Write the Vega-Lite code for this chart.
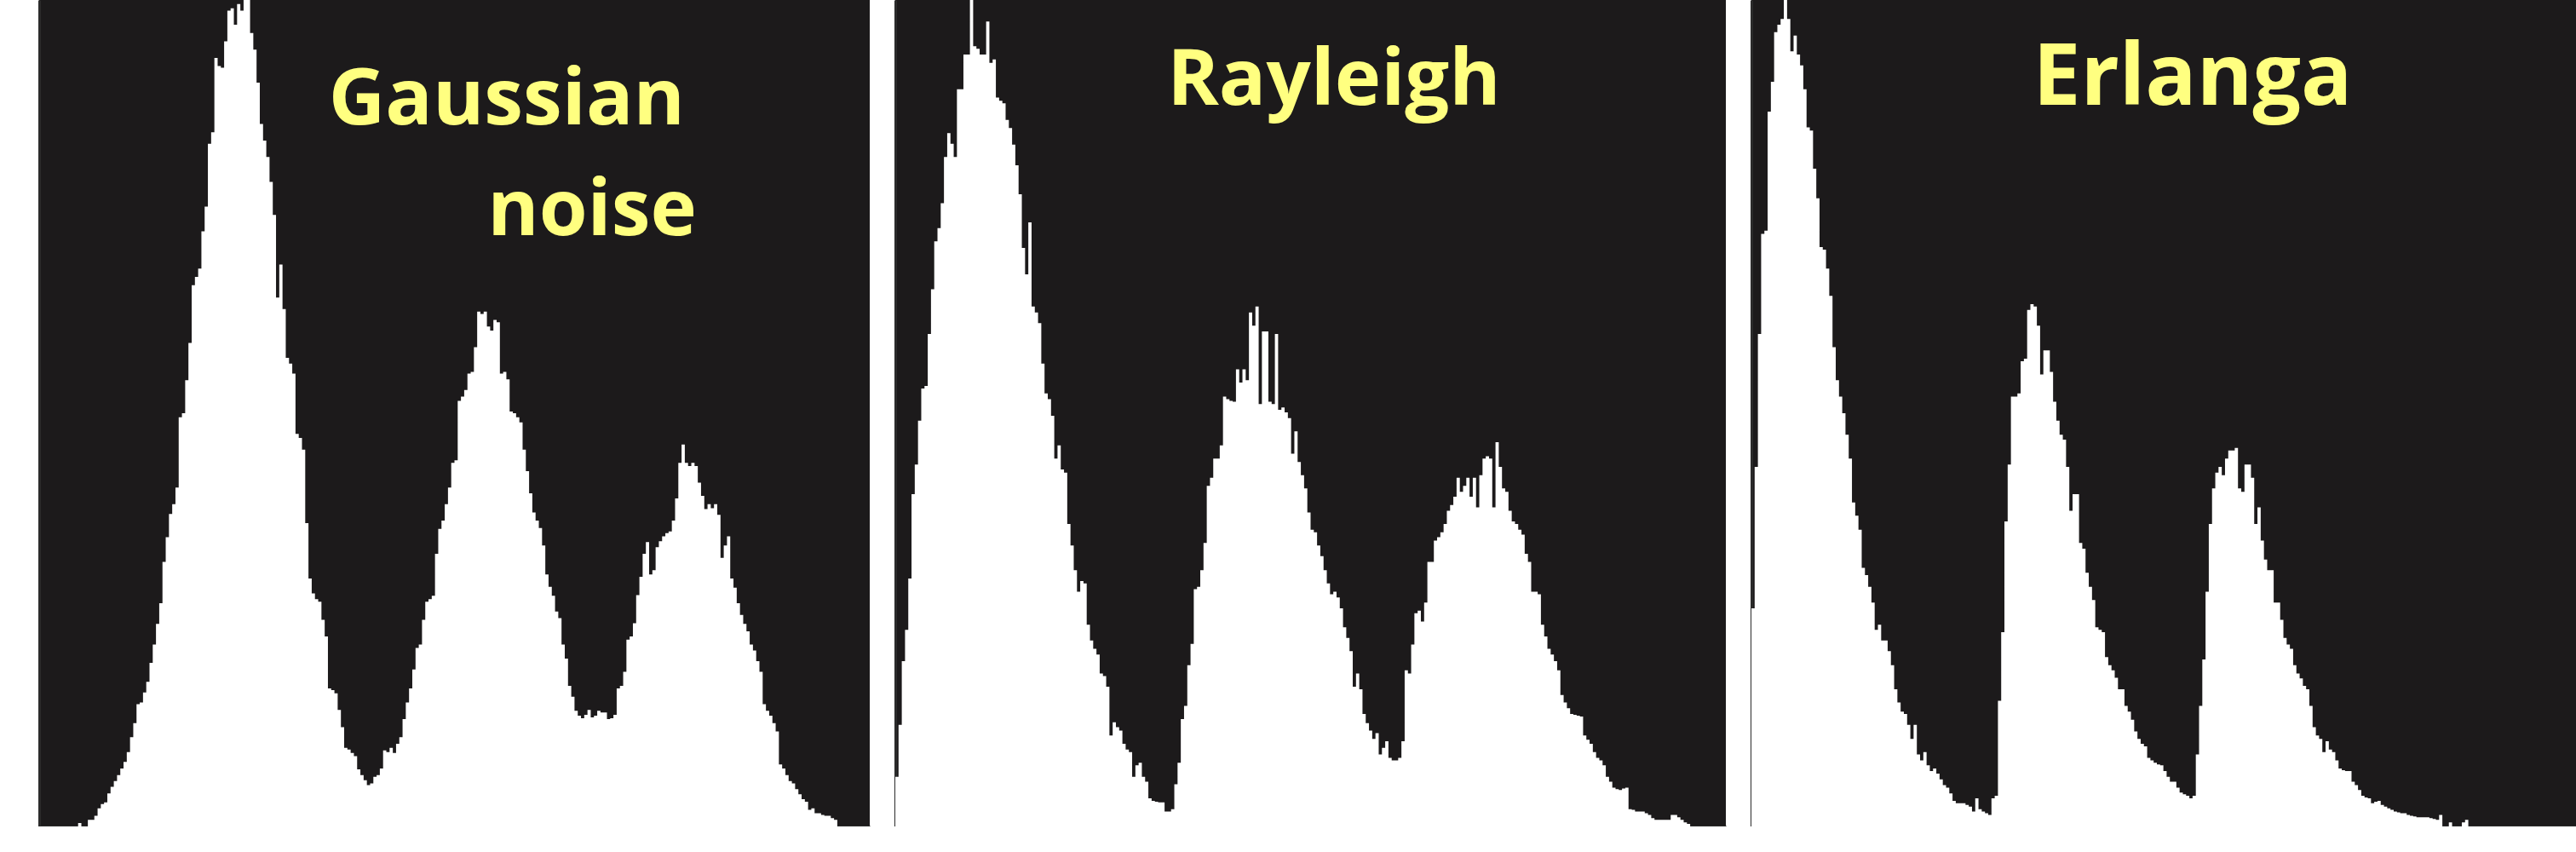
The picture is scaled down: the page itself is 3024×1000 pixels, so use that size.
{
  "$schema": "https://vega.github.io/schema/vega-lite/v6.json",
  "background": "white",
  "padding": {"left": 46, "top": 0, "right": 0, "bottom": 0},
  "spacing": 30,
  "config": {
    "view": {"fill": "#1c1a1b", "stroke": null},
    "axis": {"labels": false, "ticks": false, "grid": false, "title": null, "domainColor": "#2b2b2b", "domainWidth": 3, "zindex": 1},
    "text": {"font": "Open Sans", "fontSize": 92, "fontWeight": "bold", "color": "#ffff80", "align": "center", "baseline": "alphabetic"}
  },
  "datasets": {
    "labels": [
      {"p": "g", "i": 144.1, "v": 0.849, "t": "Gaussian"},
      {"p": "g", "i": 170.4, "v": 0.715, "t": "noise"},
      {"p": "r", "i": 135.2, "v": 0.873, "t": "Rayleigh"},
      {"p": "e", "i": 136.0, "v": 0.873, "t": "Erlanga"}
    ],
    "gaussian": [
      {"i":12,"v":0.004},{"i":13,"v":0},{"i":14,"v":0},{"i":15,"v":0.008},{"i":16,"v":0.008},{"i":17,"v":0.013},{"i":18,"v":0.022},{"i":19,"v":0.027},
      {"i":20,"v":0.029},{"i":21,"v":0.04},{"i":22,"v":0.048},{"i":23,"v":0.055},{"i":24,"v":0.062},{"i":25,"v":0.07},{"i":26,"v":0.078},{"i":27,"v":0.09},
      {"i":28,"v":0.108},{"i":29,"v":0.125},{"i":30,"v":0.148},{"i":31,"v":0.15},{"i":32,"v":0.162},{"i":33,"v":0.175},{"i":34,"v":0.198},{"i":35,"v":0.22},
      {"i":36,"v":0.245},{"i":37,"v":0.27},{"i":38,"v":0.32},{"i":39,"v":0.35},{"i":40,"v":0.378},{"i":41,"v":0.39},{"i":42,"v":0.41},{"i":43,"v":0.495},
      {"i":44,"v":0.5},{"i":45,"v":0.54},{"i":46,"v":0.585},{"i":47,"v":0.655},{"i":48,"v":0.665},{"i":49,"v":0.675},{"i":50,"v":0.72},{"i":51,"v":0.75},
      {"i":52,"v":0.826},{"i":53,"v":0.84},{"i":54,"v":0.93},{"i":55,"v":0.92},{"i":56,"v":0.918},{"i":57,"v":0.95},{"i":58,"v":0.987},{"i":59,"v":0.99},
      {"i":60,"v":0.97},{"i":61,"v":0.995},{"i":62,"v":0.987},{"i":63,"v":1.02},{"i":64,"v":1.0},{"i":65,"v":0.96},{"i":66,"v":0.94},{"i":67,"v":0.9},
      {"i":68,"v":0.85},{"i":69,"v":0.83},{"i":70,"v":0.81},{"i":71,"v":0.78},{"i":72,"v":0.74},{"i":73,"v":0.64},{"i":74,"v":0.68},{"i":75,"v":0.626},
      {"i":76,"v":0.567},{"i":77,"v":0.56},{"i":78,"v":0.548},{"i":79,"v":0.475},{"i":80,"v":0.47},{"i":81,"v":0.456},{"i":82,"v":0.367},{"i":83,"v":0.3},
      {"i":84,"v":0.282},{"i":85,"v":0.275},{"i":86,"v":0.272},{"i":87,"v":0.25},{"i":88,"v":0.23},{"i":89,"v":0.167},{"i":90,"v":0.165},{"i":91,"v":0.161},
      {"i":92,"v":0.141},{"i":93,"v":0.12},{"i":94,"v":0.095},{"i":95,"v":0.093},{"i":96,"v":0.089},{"i":97,"v":0.085},{"i":98,"v":0.069},{"i":99,"v":0.062},
      {"i":100,"v":0.056},{"i":101,"v":0.05},{"i":102,"v":0.052},{"i":103,"v":0.06},{"i":104,"v":0.062},{"i":105,"v":0.07},{"i":106,"v":0.092},{"i":107,"v":0.09},
      {"i":108,"v":0.095},{"i":109,"v":0.089},{"i":110,"v":0.1},{"i":111,"v":0.108},{"i":112,"v":0.13},{"i":113,"v":0.15},{"i":114,"v":0.167},{"i":115,"v":0.19},
      {"i":116,"v":0.216},{"i":117,"v":0.22},{"i":118,"v":0.25},{"i":119,"v":0.272},{"i":120,"v":0.275},{"i":121,"v":0.279},{"i":122,"v":0.33},{"i":123,"v":0.36},
      {"i":124,"v":0.37},{"i":125,"v":0.39},{"i":126,"v":0.41},{"i":127,"v":0.44},{"i":128,"v":0.443},{"i":129,"v":0.515},{"i":130,"v":0.52},{"i":131,"v":0.528},
      {"i":132,"v":0.548},{"i":133,"v":0.55},{"i":134,"v":0.58},{"i":135,"v":0.623},{"i":136,"v":0.62},{"i":137,"v":0.623},{"i":138,"v":0.605},{"i":139,"v":0.6},
      {"i":140,"v":0.613},{"i":141,"v":0.61},{"i":142,"v":0.548},{"i":143,"v":0.55},{"i":144,"v":0.541},{"i":145,"v":0.502},{"i":146,"v":0.5},{"i":147,"v":0.495},
      {"i":148,"v":0.489},{"i":149,"v":0.456},{"i":150,"v":0.43},{"i":151,"v":0.403},{"i":152,"v":0.38},{"i":153,"v":0.37},{"i":154,"v":0.361},{"i":155,"v":0.34},
      {"i":156,"v":0.305},{"i":157,"v":0.29},{"i":158,"v":0.279},{"i":159,"v":0.26},{"i":160,"v":0.252},{"i":161,"v":0.22},{"i":162,"v":0.203},{"i":163,"v":0.17},
      {"i":164,"v":0.157},{"i":165,"v":0.14},{"i":166,"v":0.134},{"i":167,"v":0.131},{"i":168,"v":0.135},{"i":169,"v":0.141},{"i":170,"v":0.132},{"i":171,"v":0.134},
      {"i":172,"v":0.14},{"i":173,"v":0.138},{"i":174,"v":0.138},{"i":175,"v":0.13},{"i":176,"v":0.131},{"i":177,"v":0.135},{"i":178,"v":0.167},{"i":179,"v":0.17},
      {"i":180,"v":0.187},{"i":181,"v":0.226},{"i":182,"v":0.23},{"i":183,"v":0.246},{"i":184,"v":0.28},{"i":185,"v":0.302},{"i":186,"v":0.33},{"i":187,"v":0.344},
      {"i":188,"v":0.305},{"i":189,"v":0.31},{"i":190,"v":0.338},{"i":191,"v":0.345},{"i":192,"v":0.351},{"i":193,"v":0.355},{"i":194,"v":0.357},{"i":195,"v":0.37},
      {"i":196,"v":0.397},{"i":197,"v":0.44},{"i":198,"v":0.462},{"i":199,"v":0.44},{"i":200,"v":0.436},{"i":201,"v":0.44},{"i":202,"v":0.436},{"i":203,"v":0.416},
      {"i":204,"v":0.4},{"i":205,"v":0.384},{"i":206,"v":0.39},{"i":207,"v":0.385},{"i":208,"v":0.39},{"i":209,"v":0.377},{"i":210,"v":0.325},{"i":211,"v":0.34},
      {"i":212,"v":0.351},{"i":213,"v":0.3},{"i":214,"v":0.289},{"i":215,"v":0.27},{"i":216,"v":0.256},{"i":217,"v":0.245},{"i":218,"v":0.236},{"i":219,"v":0.22},
      {"i":220,"v":0.213},{"i":221,"v":0.2},{"i":222,"v":0.187},{"i":223,"v":0.148},{"i":224,"v":0.14},{"i":225,"v":0.134},{"i":226,"v":0.125},{"i":227,"v":0.115},
      {"i":228,"v":0.075},{"i":229,"v":0.07},{"i":230,"v":0.062},{"i":231,"v":0.055},{"i":232,"v":0.052},{"i":233,"v":0.045},{"i":234,"v":0.039},{"i":235,"v":0.033},
      {"i":236,"v":0.03},{"i":237,"v":0.02},{"i":238,"v":0.022},{"i":239,"v":0.016},{"i":240,"v":0.016},{"i":241,"v":0.014},{"i":242,"v":0.013},{"i":243,"v":0.013},
      {"i":244,"v":0.01},{"i":245,"v":0.008},{"i":246,"v":0}
    ],
    "rayleigh": [
      {"i":0,"v":0.06},{"i":1,"v":0.123},{"i":2,"v":0.2},{"i":3,"v":0.238},{"i":4,"v":0.3},{"i":5,"v":0.402},{"i":6,"v":0.438},{"i":7,"v":0.491},
      {"i":8,"v":0.53},{"i":9,"v":0.533},{"i":10,"v":0.596},{"i":11,"v":0.65},{"i":12,"v":0.708},{"i":13,"v":0.724},{"i":14,"v":0.754},{"i":15,"v":0.81},
      {"i":16,"v":0.839},{"i":17,"v":0.826},{"i":18,"v":0.81},{"i":19,"v":0.892},{"i":20,"v":0.892},{"i":21,"v":0.934},{"i":22,"v":0.934},{"i":23,"v":1.02},
      {"i":24,"v":0.944},{"i":25,"v":0.941},{"i":26,"v":0.934},{"i":27,"v":0.934},{"i":28,"v":0.974},{"i":29,"v":0.924},{"i":30,"v":0.928},{"i":31,"v":0.882},
      {"i":32,"v":0.878},{"i":33,"v":0.875},{"i":34,"v":0.855},{"i":35,"v":0.845},{"i":36,"v":0.825},{"i":37,"v":0.8},{"i":38,"v":0.765},{"i":39,"v":0.7},
      {"i":40,"v":0.668},{"i":41,"v":0.731},{"i":42,"v":0.629},{"i":43,"v":0.622},{"i":44,"v":0.609},{"i":45,"v":0.56},{"i":46,"v":0.524},{"i":47,"v":0.517},
      {"i":48,"v":0.497},{"i":49,"v":0.445},{"i":50,"v":0.461},{"i":51,"v":0.432},{"i":52,"v":0.428},{"i":53,"v":0.366},{"i":54,"v":0.34},{"i":55,"v":0.31},
      {"i":56,"v":0.284},{"i":57,"v":0.297},{"i":58,"v":0.294},{"i":59,"v":0.244},{"i":60,"v":0.225},{"i":61,"v":0.215},{"i":62,"v":0.208},{"i":63,"v":0.185},
      {"i":64,"v":0.182},{"i":65,"v":0.169},{"i":66,"v":0.11},{"i":67,"v":0.126},{"i":68,"v":0.12},{"i":69,"v":0.116},{"i":70,"v":0.1},{"i":71,"v":0.093},
      {"i":72,"v":0.09},{"i":73,"v":0.06},{"i":74,"v":0.074},{"i":75,"v":0.077},{"i":76,"v":0.06},{"i":77,"v":0.054},{"i":78,"v":0.034},{"i":79,"v":0.031},
      {"i":80,"v":0.03},{"i":81,"v":0.029},{"i":82,"v":0.029},{"i":83,"v":0.018},{"i":84,"v":0.018},{"i":85,"v":0.021},{"i":86,"v":0.051},{"i":87,"v":0.077},
      {"i":88,"v":0.13},{"i":89,"v":0.146},{"i":90,"v":0.195},{"i":91,"v":0.221},{"i":92,"v":0.287},{"i":93,"v":0.29},{"i":94,"v":0.31},{"i":95,"v":0.343},
      {"i":96,"v":0.412},{"i":97,"v":0.422},{"i":98,"v":0.445},{"i":99,"v":0.445},{"i":100,"v":0.461},{"i":101,"v":0.52},{"i":102,"v":0.517},{"i":103,"v":0.515},
      {"i":104,"v":0.514},{"i":105,"v":0.553},{"i":106,"v":0.537},{"i":107,"v":0.553},{"i":108,"v":0.54},{"i":109,"v":0.622},{"i":110,"v":0.606},{"i":111,"v":0.629},
      {"i":112,"v":0.511},{"i":113,"v":0.599},{"i":114,"v":0.599},{"i":115,"v":0.514},{"i":116,"v":0.511},{"i":117,"v":0.596},{"i":118,"v":0.504},{"i":119,"v":0.507},
      {"i":120,"v":0.501},{"i":121,"v":0.494},{"i":122,"v":0.451},{"i":123,"v":0.478},{"i":124,"v":0.441},{"i":125,"v":0.425},{"i":126,"v":0.409},{"i":127,"v":0.38},
      {"i":128,"v":0.359},{"i":129,"v":0.356},{"i":130,"v":0.34},{"i":131,"v":0.327},{"i":132,"v":0.31},{"i":133,"v":0.294},{"i":134,"v":0.281},{"i":135,"v":0.284},
      {"i":136,"v":0.277},{"i":137,"v":0.264},{"i":138,"v":0.241},{"i":139,"v":0.228},{"i":140,"v":0.212},{"i":141,"v":0.169},{"i":142,"v":0.185},{"i":143,"v":0.166},
      {"i":144,"v":0.136},{"i":145,"v":0.125},{"i":146,"v":0.116},{"i":147,"v":0.106},{"i":148,"v":0.113},{"i":149,"v":0.087},{"i":150,"v":0.095},{"i":151,"v":0.103},
      {"i":152,"v":0.083},{"i":153,"v":0.08},{"i":154,"v":0.08},{"i":155,"v":0.083},{"i":156,"v":0.103},{"i":157,"v":0.189},{"i":158,"v":0.185},{"i":159,"v":0.22},
      {"i":160,"v":0.258},{"i":161,"v":0.261},{"i":162,"v":0.248},{"i":163,"v":0.271},{"i":164,"v":0.32},{"i":165,"v":0.32},{"i":166,"v":0.346},{"i":167,"v":0.35},
      {"i":168,"v":0.356},{"i":169,"v":0.366},{"i":170,"v":0.382},{"i":171,"v":0.389},{"i":172,"v":0.399},{"i":173,"v":0.422},{"i":174,"v":0.405},{"i":175,"v":0.412},
      {"i":176,"v":0.422},{"i":177,"v":0.399},{"i":178,"v":0.422},{"i":179,"v":0.386},{"i":180,"v":0.425},{"i":181,"v":0.445},{"i":182,"v":0.448},{"i":183,"v":0.445},
      {"i":184,"v":0.386},{"i":185,"v":0.465},{"i":186,"v":0.435},{"i":187,"v":0.409},{"i":188,"v":0.405},{"i":189,"v":0.382},{"i":190,"v":0.369},{"i":191,"v":0.366},
      {"i":192,"v":0.359},{"i":193,"v":0.353},{"i":194,"v":0.33},{"i":195,"v":0.32},{"i":196,"v":0.284},{"i":197,"v":0.284},{"i":198,"v":0.281},{"i":199,"v":0.244},
      {"i":200,"v":0.23},{"i":201,"v":0.215},{"i":202,"v":0.208},{"i":203,"v":0.2},{"i":204,"v":0.189},{"i":205,"v":0.159},{"i":206,"v":0.15},{"i":207,"v":0.143},
      {"i":208,"v":0.136},{"i":209,"v":0.135},{"i":210,"v":0.134},{"i":211,"v":0.133},{"i":212,"v":0.11},{"i":213,"v":0.105},{"i":214,"v":0.1},{"i":215,"v":0.09},
      {"i":216,"v":0.083},{"i":217,"v":0.08},{"i":218,"v":0.074},{"i":219,"v":0.06},{"i":220,"v":0.054},{"i":221,"v":0.047},{"i":222,"v":0.045},{"i":223,"v":0.044},
      {"i":224,"v":0.046},{"i":225,"v":0.047},{"i":226,"v":0.021},{"i":227,"v":0.02},{"i":228,"v":0.018},{"i":229,"v":0.018},{"i":230,"v":0.018},{"i":231,"v":0.016},
      {"i":232,"v":0.014},{"i":233,"v":0.01},{"i":234,"v":0.008},{"i":235,"v":0.008},{"i":236,"v":0.008},{"i":237,"v":0.008},{"i":238,"v":0.008},{"i":239,"v":0.014},
      {"i":240,"v":0.014},{"i":241,"v":0.011},{"i":242,"v":0.008},{"i":243,"v":0.005},{"i":244,"v":0.003},{"i":245,"v":0}
    ],
    "erlang": [
      {"i":0,"v":0.264},{"i":1,"v":0.435},{"i":2,"v":0.596},{"i":3,"v":0.717},{"i":4,"v":0.721},{"i":5,"v":0.865},{"i":6,"v":0.901},{"i":7,"v":0.961},
      {"i":8,"v":0.97},{"i":9,"v":0.977},{"i":10,"v":1.02},{"i":11,"v":0.977},{"i":12,"v":0.938},{"i":13,"v":0.957},{"i":14,"v":0.934},{"i":15,"v":0.921},
      {"i":16,"v":0.892},{"i":17,"v":0.846},{"i":18,"v":0.842},{"i":19,"v":0.796},{"i":20,"v":0.76},{"i":21,"v":0.701},{"i":22,"v":0.698},{"i":23,"v":0.675},
      {"i":24,"v":0.642},{"i":25,"v":0.58},{"i":26,"v":0.54},{"i":27,"v":0.52},{"i":28,"v":0.5},{"i":29,"v":0.474},{"i":30,"v":0.445},{"i":31,"v":0.392},
      {"i":32,"v":0.376},{"i":33,"v":0.359},{"i":34,"v":0.313},{"i":35,"v":0.304},{"i":36,"v":0.29},{"i":37,"v":0.271},{"i":38,"v":0.238},{"i":39,"v":0.244},
      {"i":40,"v":0.225},{"i":41,"v":0.225},{"i":42,"v":0.212},{"i":43,"v":0.195},{"i":44,"v":0.166},{"i":45,"v":0.15},{"i":46,"v":0.139},{"i":47,"v":0.136},
      {"i":48,"v":0.123},{"i":49,"v":0.106},{"i":50,"v":0.123},{"i":51,"v":0.087},{"i":52,"v":0.08},{"i":53,"v":0.09},{"i":54,"v":0.074},{"i":55,"v":0.067},
      {"i":56,"v":0.07},{"i":57,"v":0.064},{"i":58,"v":0.057},{"i":59,"v":0.05},{"i":60,"v":0.047},{"i":61,"v":0.04},{"i":62,"v":0.031},{"i":63,"v":0.028},
      {"i":64,"v":0.028},{"i":65,"v":0.028},{"i":66,"v":0.026},{"i":67,"v":0.024},{"i":68,"v":0.018},{"i":69,"v":0.034},{"i":70,"v":0.021},{"i":71,"v":0.018},
      {"i":72,"v":0.016},{"i":73,"v":0.014},{"i":74,"v":0.034},{"i":75,"v":0.037},{"i":76,"v":0.152},{"i":77,"v":0.235},{"i":78,"v":0.369},{"i":79,"v":0.438},
      {"i":80,"v":0.52},{"i":81,"v":0.52},{"i":82,"v":0.524},{"i":83,"v":0.563},{"i":84,"v":0.566},{"i":85,"v":0.625},{"i":86,"v":0.632},{"i":87,"v":0.629},
      {"i":88,"v":0.606},{"i":89,"v":0.547},{"i":90,"v":0.576},{"i":91,"v":0.576},{"i":92,"v":0.55},{"i":93,"v":0.514},{"i":94,"v":0.491},{"i":95,"v":0.474},
      {"i":96,"v":0.468},{"i":97,"v":0.435},{"i":98,"v":0.382},{"i":99,"v":0.402},{"i":100,"v":0.402},{"i":101,"v":0.343},{"i":102,"v":0.336},{"i":103,"v":0.307},
      {"i":104,"v":0.29},{"i":105,"v":0.274},{"i":106,"v":0.241},{"i":107,"v":0.238},{"i":108,"v":0.235},{"i":109,"v":0.205},{"i":110,"v":0.195},{"i":111,"v":0.189},
      {"i":112,"v":0.18},{"i":113,"v":0.166},{"i":114,"v":0.166},{"i":115,"v":0.146},{"i":116,"v":0.139},{"i":117,"v":0.129},{"i":118,"v":0.115},{"i":119,"v":0.106},
      {"i":120,"v":0.1},{"i":121,"v":0.097},{"i":122,"v":0.083},{"i":123,"v":0.08},{"i":124,"v":0.077},{"i":125,"v":0.075},{"i":126,"v":0.074},{"i":127,"v":0.067},
      {"i":128,"v":0.06},{"i":129,"v":0.054},{"i":130,"v":0.054},{"i":131,"v":0.047},{"i":132,"v":0.041},{"i":133,"v":0.039},{"i":134,"v":0.037},{"i":135,"v":0.034},
      {"i":136,"v":0.037},{"i":137,"v":0.087},{"i":138,"v":0.146},{"i":139,"v":0.202},{"i":140,"v":0.284},{"i":141,"v":0.366},{"i":142,"v":0.409},{"i":143,"v":0.428},
      {"i":144,"v":0.435},{"i":145,"v":0.425},{"i":146,"v":0.445},{"i":147,"v":0.455},{"i":148,"v":0.455},{"i":149,"v":0.458},{"i":150,"v":0.409},{"i":151,"v":0.405},
      {"i":152,"v":0.438},{"i":153,"v":0.438},{"i":154,"v":0.422},{"i":155,"v":0.366},{"i":156,"v":0.386},{"i":157,"v":0.346},{"i":158,"v":0.323},{"i":159,"v":0.31},
      {"i":160,"v":0.31},{"i":161,"v":0.271},{"i":162,"v":0.271},{"i":163,"v":0.25},{"i":164,"v":0.228},{"i":165,"v":0.22},{"i":166,"v":0.215},{"i":167,"v":0.195},
      {"i":168,"v":0.185},{"i":169,"v":0.179},{"i":170,"v":0.17},{"i":171,"v":0.166},{"i":172,"v":0.146},{"i":173,"v":0.12},{"i":174,"v":0.11},{"i":175,"v":0.106},
      {"i":176,"v":0.09},{"i":177,"v":0.103},{"i":178,"v":0.093},{"i":179,"v":0.09},{"i":180,"v":0.08},{"i":181,"v":0.07},{"i":182,"v":0.068},{"i":183,"v":0.067},
      {"i":184,"v":0.067},{"i":185,"v":0.054},{"i":186,"v":0.05},{"i":187,"v":0.044},{"i":188,"v":0.037},{"i":189,"v":0.035},{"i":190,"v":0.034},{"i":191,"v":0.028},
      {"i":192,"v":0.03},{"i":193,"v":0.031},{"i":194,"v":0.026},{"i":195,"v":0.024},{"i":196,"v":0.022},{"i":197,"v":0.02},{"i":198,"v":0.018},{"i":199,"v":0.017},
      {"i":200,"v":0.016},{"i":201,"v":0.016},{"i":202,"v":0.014},{"i":203,"v":0.013},{"i":204,"v":0.012},{"i":205,"v":0.011},{"i":206,"v":0.011},{"i":207,"v":0.011},
      {"i":208,"v":0.011},{"i":209,"v":0.01},{"i":210,"v":0.009},{"i":211,"v":0.008},{"i":212,"v":0.014},{"i":213,"v":0},{"i":214,"v":0},{"i":215,"v":0.005},
      {"i":216,"v":0},{"i":217,"v":0},{"i":218,"v":0},{"i":219,"v":0.005},{"i":220,"v":0.008},{"i":221,"v":0}
    ]
  },
  "hconcat": [
    {
      "width": 975,
      "height": 970,
      "layer": [
        {
          "data": {"name": "gaussian"},
          "mark": {"type": "area", "interpolate": "step-after", "color": "white", "clip": true},
          "encoding": {
            "x": {"field": "i", "type": "quantitative", "scale": {"domain": [0, 256], "nice": false, "zero": false}},
            "y": {"field": "v", "type": "quantitative", "scale": {"domain": [0, 1], "nice": false}}
          }
        },
        {
          "data": {"name": "labels"},
          "transform": [{"filter": "datum.p == 'g'"}],
          "mark": {"type": "text"},
          "encoding": {
            "x": {"field": "i", "type": "quantitative"},
            "y": {"field": "v", "type": "quantitative"},
            "text": {"field": "t"}
          }
        }
      ]
    },
    {
      "width": 975,
      "height": 970,
      "layer": [
        {
          "data": {"name": "rayleigh"},
          "mark": {"type": "area", "interpolate": "step-after", "color": "white", "clip": true},
          "encoding": {
            "x": {"field": "i", "type": "quantitative", "scale": {"domain": [0, 256], "nice": false, "zero": false}},
            "y": {"field": "v", "type": "quantitative", "scale": {"domain": [0, 1], "nice": false}}
          }
        },
        {
          "data": {"name": "labels"},
          "transform": [{"filter": "datum.p == 'r'"}],
          "mark": {"type": "text"},
          "encoding": {
            "x": {"field": "i", "type": "quantitative"},
            "y": {"field": "v", "type": "quantitative"},
            "text": {"field": "t"}
          }
        }
      ]
    },
    {
      "width": 968,
      "height": 970,
      "layer": [
        {
          "data": {"name": "erlang"},
          "mark": {"type": "area", "interpolate": "step-after", "color": "white", "clip": true},
          "encoding": {
            "x": {"field": "i", "type": "quantitative", "scale": {"domain": [0, 254.2], "nice": false, "zero": false}},
            "y": {"field": "v", "type": "quantitative", "scale": {"domain": [0, 1], "nice": false}}
          }
        },
        {
          "data": {"name": "labels"},
          "transform": [{"filter": "datum.p == 'e'"}],
          "mark": {"type": "text", "fontSize": 100},
          "encoding": {
            "x": {"field": "i", "type": "quantitative"},
            "y": {"field": "v", "type": "quantitative"},
            "text": {"field": "t"}
          }
        }
      ]
    }
  ]
}
